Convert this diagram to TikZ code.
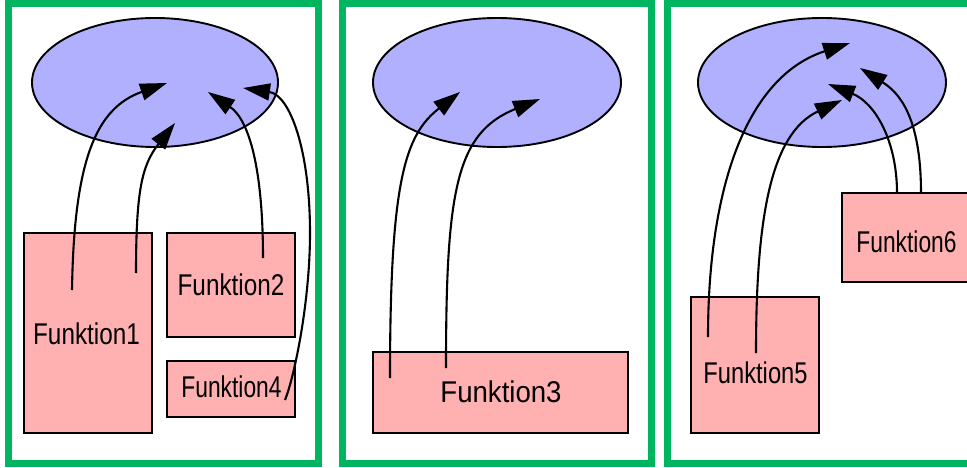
\documentclass[tikz,border=0pt]{standalone}
\usepackage{fontspec}
\usepackage{graphicx}
\setmainfont{Liberation Sans}
\usetikzlibrary{shapes.geometric,arrows.meta}
\definecolor{frgreen}{HTML}{00B55F}
\definecolor{elblue}{HTML}{B0B0FF}
\definecolor{bxpink}{HTML}{FFB0B0}
\tikzset{
  frame/.style={draw=frgreen,line width=7pt},
  oval/.style={ellipse,draw=black,fill=elblue,line width=1.9pt,inner sep=0pt,minimum width=248pt,minimum height=129pt},
  fbox/.style={rectangle,draw=black,fill=bxpink,line width=2pt,inner sep=0pt},
  ftext/.style={anchor=base,inner sep=0pt,font=\fontsize{30}{36}\selectfont},
  link/.style={draw=black,line width=2.1pt,-{Triangle[length=27pt,width=17pt]}},
}
\begin{document}
\begin{tikzpicture}[x=1pt,y=-1pt]
\useasboundingbox (0,0) rectangle (967,468);
\clip (0,0) rectangle (967,468);
\fill[white] (0,0) rectangle (967,468);
% frames
\draw[frame] (8.5,3.5) rectangle (318.5,463.5);
\draw[frame] (342.7,3.5) rectangle (651.7,463.5);
\draw[frame] (667.3,3.5) rectangle (995,463.5);
% ellipses
\node[oval,minimum width=246pt] (e1) at (155,82.5) {};
\node[oval] (e2) at (497,82.5) {};
\node[oval] (e3) at (822,82.5) {};
% boxes
\node[fbox,minimum width=128pt,minimum height=200pt] (f1) at (88,333) {};
\node[fbox,minimum width=128pt,minimum height=104pt] (f2) at (231,285) {};
\node[fbox,minimum width=128pt,minimum height=56pt] (f4) at (231,389) {};
\node[fbox,minimum width=255pt,minimum height=81pt] (f3) at (500.5,392.5) {};
\node[fbox,minimum width=128pt,minimum height=136pt] (f5) at (755,365) {};
\node[fbox,minimum width=128pt,minimum height=89pt] (f6) at (906,237.5) {};
% labels
\node[ftext] (l1) at (86.5,344) {\scalebox{0.81}[1]{Funktion1}};
\node[ftext] (l2) at (231,295) {\scalebox{0.81}[1]{Funktion2}};
\node[ftext] (l4) at (231.5,397) {\scalebox{0.76}[1]{Funktion4}};
\node[ftext] (l3) at (501,402) {\scalebox{0.92}[1]{Funktion3}};
\node[ftext] (l5) at (755.5,383) {\scalebox{0.79}[1]{Funktion5}};
\node[ftext] (l6) at (906.5,252) {\scalebox{0.76}[1]{Funktion6}};
% connector end points
\coordinate (sA) at (72,290);   \coordinate (tA) at (167,83);
\coordinate (sB) at (136,273);  \coordinate (tB) at (175,123);
\coordinate (sC) at (263,258);  \coordinate (tC) at (208,92);
\coordinate (sD) at (285,400);  \coordinate (mD) at (310,233); \coordinate (tD) at (243,88);
\coordinate (sE) at (390,378);  \coordinate (tE) at (460,92);
\coordinate (sF) at (446,368);  \coordinate (tF) at (540,99);
\coordinate (sG) at (708,337);  \coordinate (tG) at (850,43);
\coordinate (sH) at (756,353);  \coordinate (tH) at (842,100);
\coordinate (sI) at (897,193);  \coordinate (tI) at (828,84);
\coordinate (sJ) at (921,193);  \coordinate (tJ) at (860,68);
% connectors
\draw[link] (sA) .. controls (74,160) and (96,108) .. (tA);
\draw[link] (sB) .. controls (136,190) and (142,165) .. (tB);
\draw[link] (sC) .. controls (263,170) and (249.5,120) .. (tC);
\draw[link] (sD) .. controls (295,375) and (310,300) .. (mD) .. controls (310,150) and (290,95) .. (tD);
\draw[link] (sE) .. controls (390,180) and (405,135) .. (tE);
\draw[link] (sF) .. controls (446,190) and (456,133) .. (tF);
\draw[link] (sG) .. controls (708,190) and (745.5,77) .. (tG);
\draw[link] (sH) .. controls (756,220) and (770,134) .. (tH);
\draw[link] (sI) .. controls (897,140) and (874.5,102.5) .. (tI);
\draw[link] (sJ) .. controls (921,115) and (898,92) .. (tJ);
\end{tikzpicture}
\end{document}
